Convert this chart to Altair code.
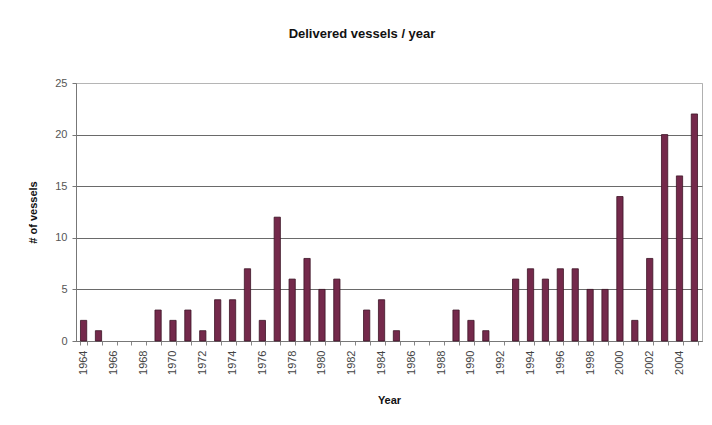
import altair as alt
import pandas as pd

# Deliveries per year
years = list(range(1964, 2006))
vessels = [2, 1, 0, 0, 0, 3, 2, 3, 1, 4,
           4, 7, 2, 12, 6, 8, 5, 6, 0, 3,
           4, 1, 0, 0, 0, 3, 2, 1, 0, 6,
           7, 6, 7, 7, 5, 5, 14, 2, 8, 20,
           16, 22]
y_ticks = [0, 5, 10, 15, 20, 25]

df = pd.DataFrame({"Year": [str(y) for y in years], "Vessels": vessels})

FONT = "Liberation Sans"

bars = alt.Chart(df).mark_bar(
    color="#74294b", stroke="#3c1426", strokeWidth=0.8
).encode(
    x=alt.X(
        "Year:N",
        sort=None,
        scale=alt.Scale(paddingInner=0.58, paddingOuter=0.3),
        axis=alt.Axis(
            title="Year",
            titleFont=FONT, titleFontSize=11, titleFontWeight="bold",
            titleColor="#111", titlePadding=20,
            labelFont=FONT, labelFontSize=11, labelColor="#444",
            labelAngle=-90, labelPadding=5,
            labelExpr="toNumber(datum.value) % 2 == 0 ? datum.value : ''",
            tickBand="extent", tickSize=4, tickColor="#888",
            domainColor="#777", grid=False,
        ),
    ),
    y=alt.Y(
        "Vessels:Q",
        scale=alt.Scale(domain=[0, 25], nice=False),
        axis=alt.Axis(
            title="# of vessels",
            titleFont=FONT, titleFontSize=11, titleFontWeight="bold",
            titleColor="#111", titlePadding=16,
            values=y_ticks,
            labelFont=FONT, labelFontSize=11, labelColor="#555",
            labelPadding=5,
            tickSize=4, tickColor="#777", domainColor="#777",
            grid=True,
            gridColor={"condition": {"test": "datum.value == 25", "value": "#b5b5b5"},
                       "value": "#6a6a6a"},
            gridWidth=1,
        ),
    ),
    # empty years get no outline
    strokeOpacity=alt.condition(alt.datum.Vessels > 0, alt.value(1), alt.value(0)),
)

chart = bars.properties(
    width=626,
    height=258,
    title=alt.TitleParams(
        "Delivered vessels / year",
        font=FONT, fontSize=13, fontWeight="bold", color="#111",
        anchor="middle", offset=36, dx=-27,
    ),
    autosize=alt.AutoSizeParams(type="none"),
    padding={"left": 76, "top": 83, "right": 10, "bottom": 84},
    background="white",
).configure_view(
    stroke="#b0b0b0", strokeWidth=1
)

chart.save("out.html", embed_options={"renderer": "svg", "actions": False})
